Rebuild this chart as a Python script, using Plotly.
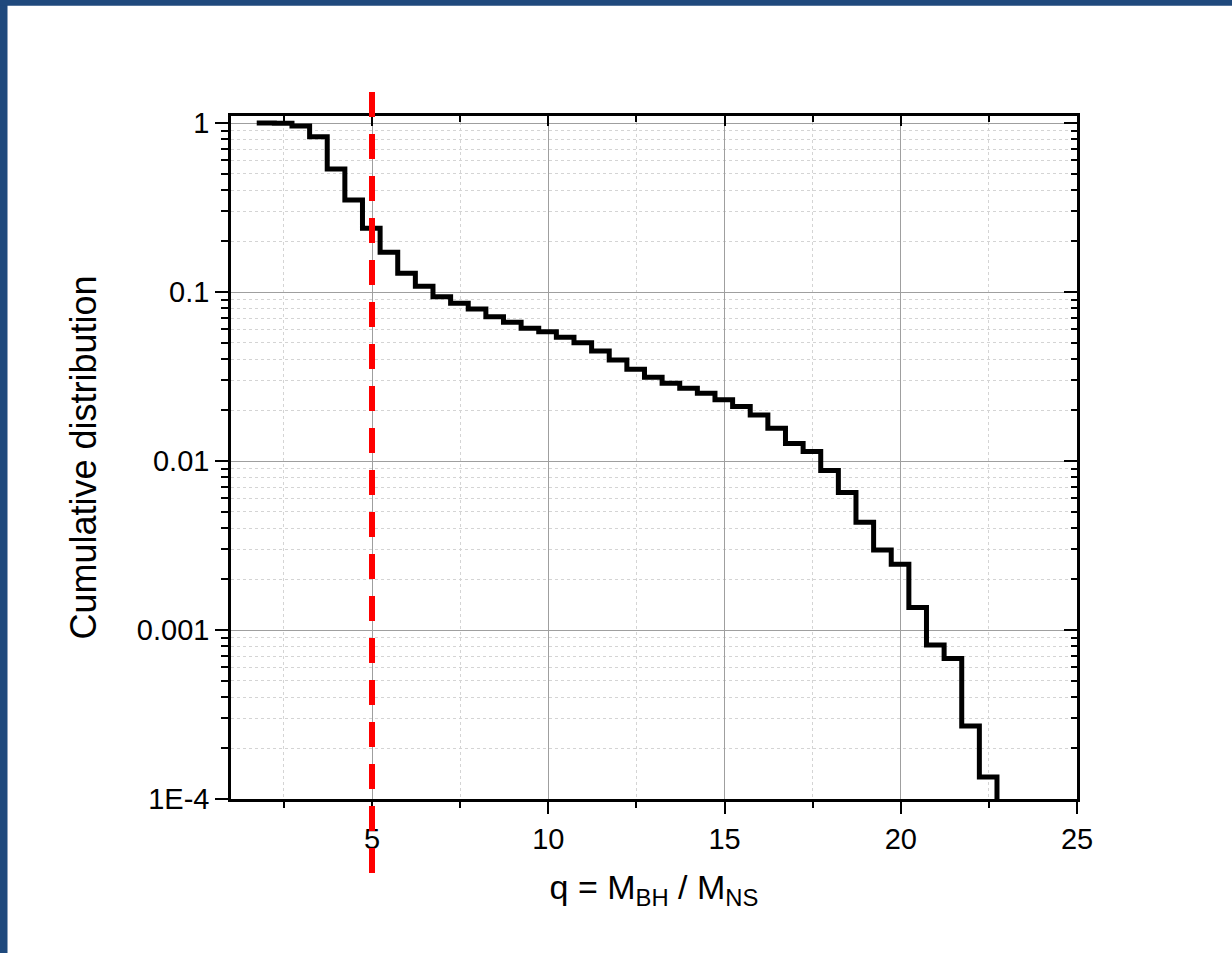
import math
import plotly.graph_objects as go

# ---------------- data ----------------
bin_left = [1.73, 2.23, 2.73, 3.23, 3.73, 4.23, 4.73, 5.23, 5.73, 6.23,
            6.73, 7.23, 7.73, 8.23, 8.73, 9.23, 9.73, 10.23, 10.73, 11.23,
            11.73, 12.23, 12.73, 13.23, 13.73, 14.23, 14.73, 15.23, 15.73, 16.23,
            16.73, 17.23, 17.73, 18.23, 18.73, 19.23, 19.73, 20.23, 20.73, 21.23,
            21.73, 22.23]
last_edge = 22.73
cum_dist = [1.0, 0.995, 0.96, 0.83, 0.534, 0.35, 0.238, 0.172, 0.129, 0.108,
            0.0938, 0.0857, 0.0793, 0.0714, 0.0663, 0.0610, 0.0582, 0.0539, 0.0501, 0.0448,
            0.0396, 0.0349, 0.0313, 0.0288, 0.0269, 0.0252, 0.0230, 0.0210, 0.0187, 0.0156,
            0.0127, 0.0114, 0.0088, 0.0065, 0.00434, 0.00297, 0.00245, 0.00136, 0.000814, 0.000679,
            0.000270, 0.000135]
y_floor = 1e-6          # value after last bin (zero on a log axis -> below range)
q_threshold = 5

x_range = [1, 25]
y_range_vals = [1e-4, 1.1]
y_tickvals = [1e-4, 1e-3, 1e-2, 0.1, 1]
y_ticktext = ["1E-4", "0.001", "0.01", "0.1", "1"]
x_title = "q = M<sub>BH</sub> / M<sub>NS</sub>"
y_title = "Cumulative distribution"

# ---------------- layout geometry ----------------
W, H = 1232, 953
L, R, T, B = 231, 155, 116, 154
PW, PH = W - L - R, H - T - B

def px_x(p):
    return (p - L) / PW

def px_y(p):
    return (H - B - p) / PH

y_range = [math.log10(v) for v in y_range_vals]
minor_y = [m * 10 ** e for e in range(-4, 0) for m in range(2, 10)]

FONT = "Liberation Sans, Arial, sans-serif"
MAJ_GRID = "#9f9f9f"
MIN_GRID = "#d4d4d4"
TICK_SIZE = 29

xs = bin_left + [last_edge, last_edge]
ys = cum_dist + [cum_dist[-1], y_floor]

fig = go.Figure()
fig.add_trace(go.Scatter(x=xs, y=ys, mode="lines", line=dict(color="black", width=5, shape="hv"),
                         showlegend=False, hoverinfo="x+y"))
fig.add_trace(go.Scatter(x=[None], y=[None], xaxis="x2", yaxis="y2", showlegend=False,
                         hoverinfo="skip"))

fig.update_layout(
    width=W, height=H,
    margin=dict(l=L, r=R, t=T, b=B, autoexpand=False),
    paper_bgcolor="white", plot_bgcolor="white",
    template="none",
    font=dict(family=FONT, color="black"),
    showlegend=False,
    xaxis=dict(
        range=x_range, tick0=0, dtick=5, ticks="outside", ticklen=12, tickwidth=2, tickcolor="black",
        showline=True, linecolor="black", linewidth=2.5, zeroline=False,
        showgrid=True, gridcolor=MAJ_GRID, gridwidth=1.2,
        tickfont=dict(size=TICK_SIZE, family=FONT, color="black"),
        minor=dict(tick0=0, dtick=2.5, ticks="outside", ticklen=6, tickwidth=2, tickcolor="black",
                   showgrid=True, gridcolor=MIN_GRID, gridwidth=1, griddash="3px,3px"),
        title=dict(text=x_title, font=dict(size=34, family=FONT, color="black"), standoff=22),
        automargin=False,
    ),
    yaxis=dict(
        type="log", range=y_range, tickmode="array", tickvals=y_tickvals, ticktext=y_ticktext,
        ticks="outside", ticklen=13, tickwidth=2, tickcolor="black",
        showline=True, linecolor="black", linewidth=2.5, zeroline=False,
        showgrid=True, gridcolor=MAJ_GRID, gridwidth=1.2,
        tickfont=dict(size=TICK_SIZE, family=FONT, color="black"),
        minor=dict(tickmode="array", tickvals=minor_y, ticks="outside", ticklen=7, tickwidth=2,
                   tickcolor="black", showgrid=True, gridcolor=MIN_GRID, gridwidth=1,
                   griddash="3px,3px"),
        title=dict(text=y_title, font=dict(size=36, family=FONT, color="black"), standoff=30),
        automargin=False,
    ),
    xaxis2=dict(
        overlaying="x", side="top", anchor="y", range=x_range, tick0=0, dtick=5,
        ticks="inside", ticklen=10, tickwidth=2, tickcolor="black", showticklabels=False,
        showline=True, linecolor="black", linewidth=2.5, showgrid=False, zeroline=False,
        minor=dict(tick0=0, dtick=2.5, ticks="inside", ticklen=6, tickwidth=2, tickcolor="black",
                   showgrid=False),
    ),
    yaxis2=dict(
        overlaying="y", side="right", anchor="x", type="log", range=y_range,
        tickmode="array", tickvals=y_tickvals, ticks="inside", ticklen=13, tickwidth=2,
        tickcolor="black", showticklabels=False,
        showline=True, linecolor="black", linewidth=2.5, showgrid=False, zeroline=False,
        minor=dict(tickmode="array", tickvals=minor_y, ticks="inside", ticklen=6, tickwidth=2,
                   tickcolor="black", showgrid=False),
    ),
)

# red dashed threshold line at q = 5
fig.add_shape(type="line", xref="x", yref="paper", x0=q_threshold, x1=q_threshold,
              y0=px_y(873), y1=px_y(88), line=dict(color="#ff0000", width=6, dash="25px,17px"),
              layer="above")

# dark blue frame at top-left edges of the slide
BLUE = "#1f497d"
fig.add_shape(type="rect", xref="paper", yref="paper", x0=px_x(0), x1=px_x(7.5),
              y0=px_y(H), y1=px_y(0), line=dict(width=0), fillcolor=BLUE, layer="above")
fig.add_shape(type="rect", xref="paper", yref="paper", x0=px_x(0), x1=px_x(W),
              y0=px_y(5.7), y1=px_y(0), line=dict(width=0), fillcolor=BLUE, layer="above")

fig.write_html("out.html")
